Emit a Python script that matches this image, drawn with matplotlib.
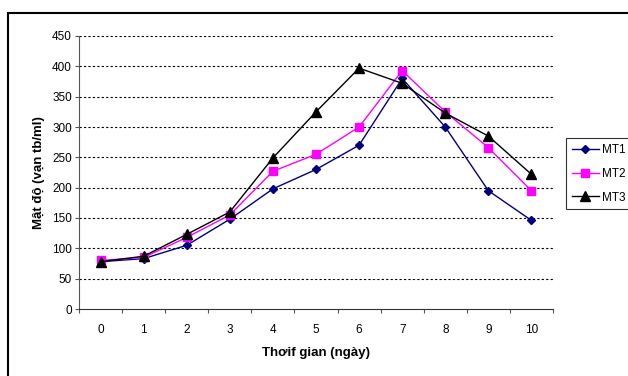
import matplotlib
matplotlib.use("Agg")
import matplotlib.pyplot as plt
from matplotlib.patches import Rectangle
import numpy as np

plt.rcParams['font.family'] = ['Liberation Sans', 'DejaVu Sans']

days = [0, 1, 2, 3, 4, 5, 6, 7, 8, 9, 10]
mt1 = [78, 83, 105, 148, 198, 230, 270, 380, 300, 195, 146]
mt2 = [80, 85, 118, 155, 227, 255, 300, 393, 325, 266, 195]
mt3 = [78, 87, 123, 160, 249, 325, 397, 372, 323, 285, 222]
series_names = ["MT1", "MT2", "MT3"]
y_ticks = [0, 50, 100, 150, 200, 250, 300, 350, 400, 450]

fig = plt.figure(figsize=(6.28, 3.76), dpi=100)
W, H = 628, 376
ax = fig.add_axes([79 / W, 1 - 309 / H, (553 - 79) / W, (309 - 36) / H])

x = np.arange(len(days))
ax.plot(x, mt1, color='#000080', lw=1, marker='D', ms=4.5, mfc='#000080', mec='#000080', label=series_names[0], zorder=3)
ax.plot(x, mt2, color='#FF00FF', lw=1, marker='s', ms=5.5, mfc='#FF00FF', mec='#FF00FF', label=series_names[1], zorder=4)
ax.plot(x, mt3, color='black', lw=1, marker='^', ms=7.5, mfc='black', mec='black', label=series_names[2], zorder=5)

fs = 8.5
ax.set_xlim(-0.5, len(days) - 0.5)
ax.set_ylim(0, 450)
ax.set_yticks(y_ticks)
ax.set_xticks(x)
ax.set_xticklabels([str(d) for d in days], fontsize=fs)
ax.set_xticks(np.arange(-0.5, len(days)), minor=True)
ax.tick_params(axis='x', which='major', length=0, pad=11)
ax.tick_params(axis='x', which='minor', length=3, width=0.8, color='#555555')
ax.tick_params(axis='y', length=3, width=0.8, color='#555555', labelsize=fs, pad=2)

for v in y_ticks[1:]:
    ax.axhline(v, color='black', lw=0.8, ls=(0, (2, 2)), zorder=1)

for s in ['top', 'right']:
    ax.spines[s].set_visible(False)
ax.spines['left'].set_color('#555555')
ax.spines['bottom'].set_color('#333333')
ax.spines['left'].set_linewidth(0.8)
ax.spines['bottom'].set_linewidth(0.8)

ax.set_ylabel("Mật độ (vạn tb/ml)", fontsize=9.5, fontweight='bold', labelpad=5)
ax.set_xlabel("Thơif gian (ngày)", fontsize=9.5, fontweight='bold', labelpad=8)

leg = fig.legend(loc='upper left', bbox_to_anchor=(566 / W, 1 - 138 / H), fontsize=fs,
                 frameon=True, fancybox=False, edgecolor='black', borderpad=0.5,
                 handlelength=2.3, handletextpad=0.25, labelspacing=1.0, borderaxespad=0)
leg.get_frame().set_linewidth(0.8)

fig.patches.append(Rectangle((8 / W, -0.05), 1.1, 1 - 13 / H + 0.05, transform=fig.transFigure,
                             fill=False, edgecolor='black', lw=1.5, clip_on=False))

fig.savefig("out.png", dpi=100)
